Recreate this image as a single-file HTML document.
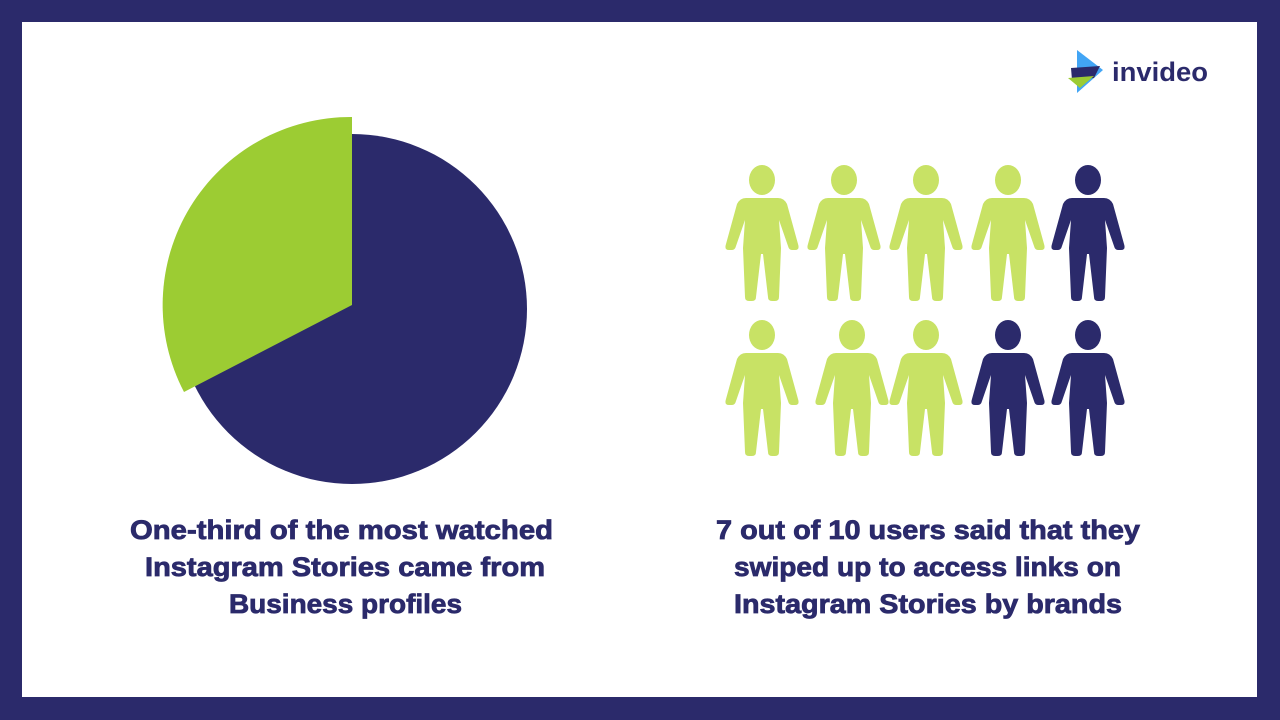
<!DOCTYPE html>
<html><head><meta charset="utf-8"><style>
html,body{margin:0;padding:0;background:#2b2a6b;}
svg{display:block}
</style></head><body>
<svg width="1280" height="720" viewBox="0 0 1280 720" xmlns="http://www.w3.org/2000/svg">
<defs>
<path id="p" d="M -16,18 Q -22,18 -25,24 L -36,64 Q -38,70 -33,70 L -30,70 Q -27,70 -26,66 L -17,40 L -19,68 L -17,117 Q -17,121 -13,121 L -10,121 Q -6,121 -6,117 L -1,74 L 1,74 L 6,117 Q 6,121 10,121 L 13,121 Q 17,121 17,117 L 19,68 L 17,40 L 26,66 Q 27,70 30,70 L 33,70 Q 38,70 36,64 L 25,24 Q 22,18 16,18 Z"/>
<g id="person"><ellipse cx="0" cy="0" rx="13" ry="15"/><use href="#p"/></g>
</defs>
<rect x="0" y="0" width="1280" height="720" fill="#2b2a6b"/>
<rect x="22" y="22" width="1235" height="675" fill="#ffffff"/>
<circle cx="352" cy="309" r="175" fill="#2b2a6b"/>
<path d="M 352,305 L 352,117 A 188,188 0 0 0 184,392 Z" fill="#9ccc33"/>
<g fill="#c8e265">
<use href="#person" x="762" y="180"/>
<use href="#person" x="844" y="180"/>
<use href="#person" x="926" y="180"/>
<use href="#person" x="1008" y="180"/>
<use href="#person" x="762" y="335"/>
<use href="#person" x="852" y="335"/>
<use href="#person" x="926" y="335"/>
</g>
<g fill="#2b2a6b">
<use href="#person" x="1088" y="180"/>
<use href="#person" x="1008" y="335"/>
<use href="#person" x="1088" y="335"/>
</g>
<polygon points="1077,50 1103,70 1077,93" fill="#42a5f5"/>
<polygon points="1071,68 1100,66 1094,78 1072,80" fill="#2b2a6b"/>
<polygon points="1068,78 1094,76 1080,88" fill="#9ccc33"/>
<text x="1112" y="81" font-family="Liberation Sans, sans-serif" font-size="27" font-weight="bold" fill="#2b2a6b" textLength="96" lengthAdjust="spacingAndGlyphs">invideo</text>
<g font-family="Liberation Sans, sans-serif" font-size="27" font-weight="bold" fill="#2b2a6b" stroke="#2b2a6b" stroke-width="0.8">
<text x="130" y="539" textLength="423" lengthAdjust="spacingAndGlyphs">One-third of the most watched</text>
<text x="145" y="576" textLength="400" lengthAdjust="spacingAndGlyphs">Instagram Stories came from</text>
<text x="229" y="613" textLength="233" lengthAdjust="spacingAndGlyphs">Business profiles</text>
<text x="716" y="539" textLength="424" lengthAdjust="spacingAndGlyphs">7 out of 10 users said that they</text>
<text x="734" y="576" textLength="387" lengthAdjust="spacingAndGlyphs">swiped up to access links on</text>
<text x="734" y="613" textLength="388" lengthAdjust="spacingAndGlyphs">Instagram Stories by brands</text>
</g>
</svg>
</body></html>
